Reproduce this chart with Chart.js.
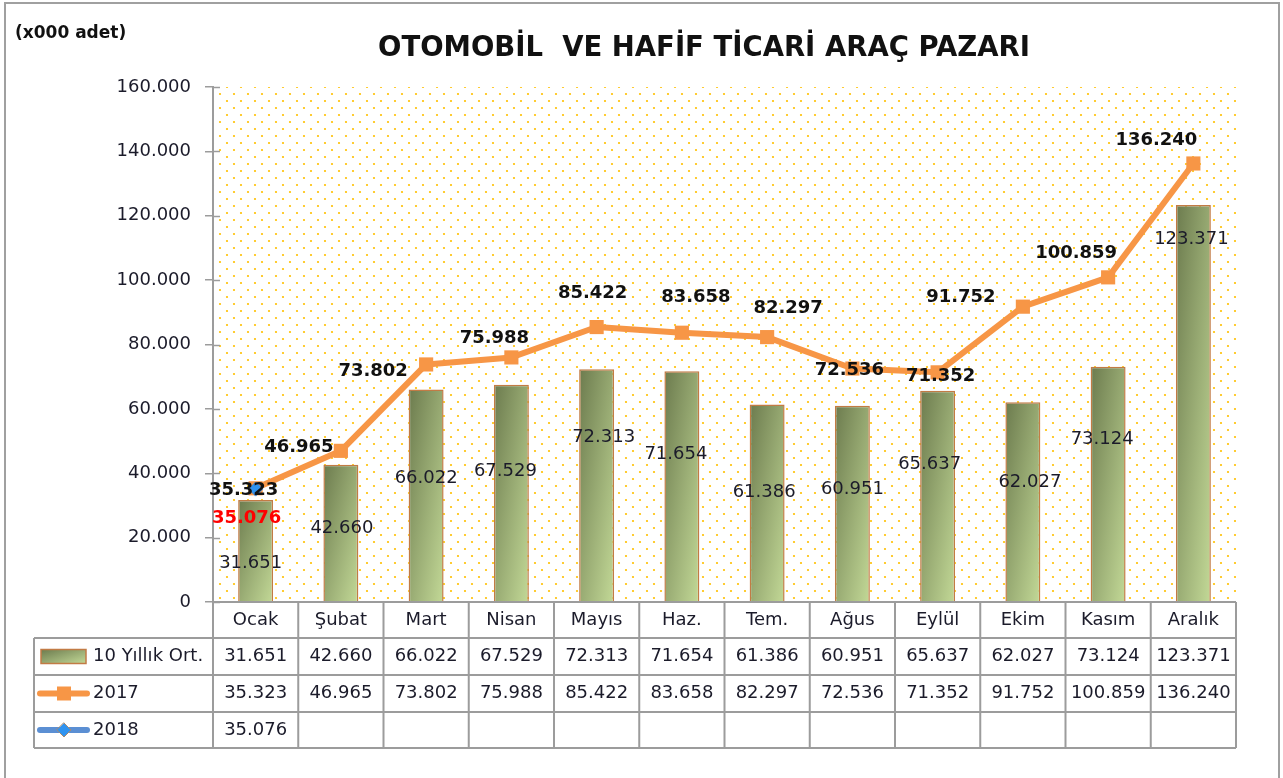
<!DOCTYPE html>
<html lang="tr">
<head>
<meta charset="utf-8">
<title>Otomobil ve Hafif Ticari Araç Pazarı</title>
<script src="https://cdn.jsdelivr.net/npm/chart.js@4.4.1/dist/chart.umd.min.js"></script>
<style>
  html, body { margin: 0; padding: 0; background: #fff; }
  #wrap { width: 1283px; height: 778px; position: relative; overflow: hidden; }
</style>
</head>
<body>
<div id="wrap"><canvas id="pazar" width="1283" height="778"></canvas></div>
<script>
// Chart data (x000 adet)
const months = ['Ocak', 'Şubat', 'Mart', 'Nisan', 'Mayıs', 'Haz.', 'Tem.', 'Ağus', 'Eylül', 'Ekim', 'Kasım', 'Aralık'];
const avg10 = [31651, 42660, 66022, 67529, 72313, 71654, 61386, 60951, 65637, 62027, 73124, 123371];
const sales2017 = [35323, 46965, 73802, 75988, 85422, 83658, 82297, 72536, 71352, 91752, 100859, 136240];
const sales2018 = [35076, null, null, null, null, null, null, null, null, null, null, null];
const seriesNames = ['10 Yıllık Ort.', '2017', '2018'];
const yTicks = [0, 20000, 40000, 60000, 80000, 100000, 120000, 140000, 160000];

const chartTitle = 'OTOMOBİL  VE HAFİF TİCARİ ARAÇ PAZARI';
const unitNote = '(x000 adet)';

// Colours
const orange = '#F79646';
const blue = '#4F81BD';
const diamondBlue = '#2F93F0';
const barDark = '#6C7B4E';
const barLight = '#C3D997';
const barEdge = '#C27B45';
const gridGray = '#9C9C9C';
const FONT = '"DejaVu Sans", Verdana, sans-serif';

// Hand placed data labels, as in the original sheet (pixel shift from the mark)
const avgLabelShift = [[-5, 63], [1, 64], [0, 89], [-6, 87], [7, 68], [-6, 83], [-3, 88], [0, 84], [-8, 74], [7, 80], [-6, 73], [-2, 34]];
const lineLabelShift = [[-12, 2], [-42, -4], [-53, 7], [-17, -19], [-4, -34], [14, -35], [21, -29], [-3, 2], [3, 4], [-62, -9], [-32, -24], [-37, -23]];
const label2018Shift = [-9, 29];

// Table rows below the plot (offsets from the x axis line)
const tableRows = [0, 36, 73, 110, 146];
const tableLeft = 34;

// Format number with dot thousands separator
const fmt = (v) => String(v).replace(/\B(?=(\d{3})+(?!\d))/g, '.');

// Diagonal gradient that scales with the bar shape
function barFill(ctx, left, top, w, h) {
    const k = (2 * w * h) / (h * h + w * w);
    const g = ctx.createLinearGradient(left, top, left + k * h, top + k * w);
    g.addColorStop(0, barDark);
    g.addColorStop(1, barLight);
    return g;
}

function barBackground(c) {
    const chart = c.chart;
    if (!chart.chartArea || c.dataIndex === undefined || !chart.scales.x) return '#94A86B';
    const xs = chart.scales.x, ys = chart.scales.y;
    const cx = xs.getPixelForValue(c.dataIndex);
    const w = (xs.width / months.length) * 0.41;
    const top = ys.getPixelForValue(c.raw);
    const bottom = ys.getPixelForValue(0);
    return barFill(chart.ctx, cx - w / 2, top, w, Math.max(1, bottom - top));
}

// Dotted plot background
function dotPattern(ctx) {
    const p = document.createElement('canvas');
    p.width = 14; p.height = 14;
    const pc = p.getContext('2d');
    pc.fillStyle = '#FFC000';
    [[3, 3], [10, 10]].forEach(([x, y]) => {
        pc.beginPath();
        pc.arc(x, y, 1.1, 0, Math.PI * 2);
        pc.fill();
    });
    return ctx.createPattern(p, 'repeat');
}

const sheetPlugin = {
    id: 'sheet',
    beforeDraw(chart) {
        const { ctx, chartArea: a } = chart;
        ctx.save();
        ctx.fillStyle = '#fff';
        ctx.fillRect(0, 0, chart.width, chart.height);
        ctx.fillStyle = dotPattern(ctx);
        ctx.fillRect(a.left, a.top, a.width, a.height);
        ctx.restore();
    },
    afterDatasetsDraw(chart) {
        const { ctx } = chart;
        const xs = chart.scales.x, ys = chart.scales.y;
        ctx.save();
        ctx.textAlign = 'center';
        ctx.textBaseline = 'middle';

        // 10 year average labels
        ctx.font = '18px ' + FONT;
        ctx.fillStyle = '#1b1b2a';
        avg10.forEach((v, i) => {
            const [dx, dy] = avgLabelShift[i];
            ctx.fillText(fmt(v), xs.getPixelForValue(i) + dx, ys.getPixelForValue(v) + dy);
        });

        // 2017 labels
        ctx.font = 'bold 18px ' + FONT;
        ctx.fillStyle = '#111';
        sales2017.forEach((v, i) => {
            const [dx, dy] = lineLabelShift[i];
            ctx.fillText(fmt(v), xs.getPixelForValue(i) + dx, ys.getPixelForValue(v) + dy);
        });

        // 2018 labels
        ctx.fillStyle = '#FF0000';
        sales2018.forEach((v, i) => {
            if (v === null) return;
            ctx.fillText(fmt(v), xs.getPixelForValue(i) + label2018Shift[0], ys.getPixelForValue(v) + label2018Shift[1]);
        });
        ctx.restore();
    },
    afterDraw(chart) {
        const { ctx, chartArea: a } = chart;
        const ys = chart.scales.y;
        const colW = a.width / months.length;
        const b = a.bottom;
        ctx.save();

        // inner half of the y ticks
        ctx.strokeStyle = gridGray;
        ctx.lineWidth = 1.5;
        yTicks.forEach(v => {
            const y = Math.round(ys.getPixelForValue(v)) + 0.5;
            ctx.beginPath();
            ctx.moveTo(a.left, y);
            ctx.lineTo(a.left + 7, y);
            ctx.stroke();
        });

        // data table grid
        ctx.strokeStyle = gridGray;
        ctx.lineWidth = 2;
        ctx.beginPath();
        ctx.moveTo(a.left, b);
        ctx.lineTo(a.right, b);
        for (let r = 1; r < tableRows.length; r++) {
            ctx.moveTo(tableLeft, b + tableRows[r]);
            ctx.lineTo(a.right, b + tableRows[r]);
        }
        for (let i = 0; i <= months.length; i++) {
            const x = a.left + i * colW;
            ctx.moveTo(x, b);
            ctx.lineTo(x, b + tableRows[4]);
        }
        ctx.moveTo(tableLeft, b + tableRows[1]);
        ctx.lineTo(tableLeft, b + tableRows[4]);
        ctx.stroke();

        // table text
        const rowMid = (r) => b + (tableRows[r] + tableRows[r + 1]) / 2;
        ctx.font = '18px ' + FONT;
        ctx.fillStyle = '#1b1b2a';
        ctx.textAlign = 'center';
        ctx.textBaseline = 'middle';
        months.forEach((m, i) => {
            const cx = a.left + (i + 0.5) * colW;
            ctx.fillText(m, cx, rowMid(0));
            ctx.fillText(fmt(avg10[i]), cx, rowMid(1));
            ctx.fillText(fmt(sales2017[i]), cx, rowMid(2));
            if (sales2018[i] !== null) ctx.fillText(fmt(sales2018[i]), cx, rowMid(3));
        });

        // legend keys
        ctx.textAlign = 'left';
        seriesNames.forEach((n, r) => ctx.fillText(n, 93, rowMid(r + 1)));

        const y1 = rowMid(1);
        ctx.fillStyle = barFill(ctx, 41, y1 - 7, 45, 14);
        ctx.fillRect(41, y1 - 7, 45, 14);
        ctx.strokeStyle = barEdge;
        ctx.lineWidth = 1.5;
        ctx.strokeRect(41, y1 - 7, 45, 14);

        ctx.lineCap = 'round';
        const y2 = rowMid(2);
        ctx.strokeStyle = orange;
        ctx.lineWidth = 6;
        ctx.beginPath();
        ctx.moveTo(40, y2);
        ctx.lineTo(87, y2);
        ctx.stroke();
        ctx.fillStyle = orange;
        ctx.fillRect(57, y2 - 7, 14, 14);

        const y3 = rowMid(3);
        ctx.strokeStyle = '#5B8FD3';
        ctx.beginPath();
        ctx.moveTo(40, y3);
        ctx.lineTo(87, y3);
        ctx.stroke();
        ctx.beginPath();
        ctx.moveTo(64, y3 - 7);
        ctx.lineTo(71, y3);
        ctx.lineTo(64, y3 + 7);
        ctx.lineTo(57, y3);
        ctx.closePath();
        ctx.fillStyle = diamondBlue;
        ctx.fill();
        ctx.strokeStyle = '#A98A6E';
        ctx.lineWidth = 1;
        ctx.stroke();

        // titles
        ctx.fillStyle = '#111';
        ctx.textAlign = 'center';
        ctx.textBaseline = 'alphabetic';
        ctx.font = 'bold 27.5px ' + FONT;
        ctx.fillText(chartTitle, 704, 56);
        ctx.textAlign = 'left';
        ctx.font = 'bold 17px ' + FONT;
        ctx.fillText(unitNote, 15, 38);

        // outer frame
        ctx.strokeStyle = '#A0A0A0';
        ctx.lineWidth = 2;
        ctx.strokeRect(5, 3, 1274, 800);
        ctx.restore();
    }
};

const ctx = document.getElementById('pazar').getContext('2d');
new Chart(ctx, {
    type: 'bar',
    data: {
        labels: months,
        datasets: [
            {
                type: 'line',
                label: seriesNames[2],
                data: sales2018,
                order: 0,
                borderColor: blue,
                borderWidth: 6,
                pointStyle: 'rectRot',
                pointRadius: 7,
                pointBackgroundColor: diamondBlue,
                pointBorderColor: '#3C86D8',
                pointBorderWidth: 1
            },
            {
                type: 'line',
                label: seriesNames[1],
                data: sales2017,
                order: 1,
                borderColor: orange,
                borderWidth: 6,
                borderJoinStyle: 'round',
                borderCapStyle: 'round',
                tension: 0,
                pointStyle: 'rect',
                pointRadius: 10,
                pointBackgroundColor: orange,
                pointBorderColor: orange,
                pointBorderWidth: 0
            },
            {
                type: 'bar',
                label: seriesNames[0],
                data: avg10,
                order: 2,
                backgroundColor: barBackground,
                borderColor: barEdge,
                borderWidth: 1.5,
                categoryPercentage: 1,
                barPercentage: 0.41
            }
        ]
    },
    options: {
        responsive: false,
        animation: false,
        layout: { padding: { left: 0, top: 87, right: 47, bottom: 176 } },
        plugins: {
            legend: { display: false },
            title: { display: false },
            tooltip: { enabled: false }
        },
        scales: {
            x: { display: false, offset: true },
            y: {
                min: 0,
                max: 160000,
                afterBuildTicks: (scale) => { scale.ticks = yTicks.map(v => ({ value: v })); },
                afterFit: (scale) => { scale.width = 213; },
                grid: { drawOnChartArea: false, drawTicks: true, tickLength: 8, color: gridGray, lineWidth: 1.5 },
                border: { display: true, color: gridGray, width: 2 },
                ticks: {
                    padding: 14,
                    color: '#1b1b2a',
                    font: { family: FONT, size: 18 },
                    callback: (v) => fmt(v)
                }
            }
        }
    },
    plugins: [sheetPlugin]
});
</script>
</body>
</html>
